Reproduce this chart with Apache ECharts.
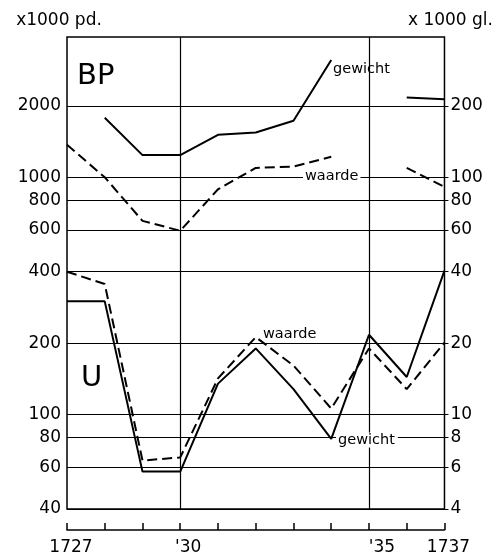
<!DOCTYPE html>
<html>
<head>
<meta charset="utf-8">
<script src="https://cdn.jsdelivr.net/npm/echarts@6/dist/echarts.min.js"></script>
<style>
  html, body { margin: 0; padding: 0; background: #fff; }
  #chart { width: 496px; height: 557px; }
</style>
</head>
<body>
<div id="chart"></div>
<script>
// jaren
var years = [1727, 1728, 1729, 1730, 1731, 1732, 1733, 1734, 1735, 1736, 1737];
// BP (x1000 pd. links, x1000 gl. rechts)
var bpGewicht = [null, 1780, 1240, 1240, 1510, 1545, 1730, 3120, null, 2170, 2130];
var bpWaarde = [1370, 1000, 655, 595, 890, 1095, 1110, 1220, null, 1095, 910];
// U
var uGewicht = [300, 300, 57.5, 57.5, 135, 190, 128, 79, 217, 144, 404];
var uWaarde = [400, 355, 64, 66, 142, 212, 161, 106, 190, 128, 201];
// schaalverdeling
var leftTicks = [40, 60, 80, 100, 200, 400, 600, 800, 1000, 2000];
var rightTicks = [4, 6, 8, 10, 20, 40, 60, 80, 100, 200];
var yearLabels = { 1727: '1727', 1730: "'30", 1735: "'35", 1737: '1737' };
var yearShift = { 1727: 'a', 1730: 'b', 1735: 'c', 1737: 'a' };

var font = 'DejaVu Sans';

function pairs(values) {
  var out = [];
  for (var i = 0; i < years.length; i++) {
    out.push([years[i], values[i]]);
  }
  return out;
}

function plainNumber(v) {
  // geen duizendtallen-komma
  return String(Math.round(v));
}

var myChart = echarts.init(document.getElementById('chart'));

var gridLines = [];
for (var i = 0; i < leftTicks.length; i++) {
  gridLines.push({ yAxis: leftTicks[i] });
}
gridLines.push({ xAxis: 1730 });
gridLines.push({ xAxis: 1735 });

var solid = { color: '#000', width: 2, type: 'solid' };
var dashed = { color: '#000', width: 2, type: [10, 5] };

var option = {
  animation: false,
  backgroundColor: '#fff',
  grid: {
    left: 67, right: 50, top: 37, bottom: 48,
    show: true, borderColor: '#000', borderWidth: 1.5
  },
  xAxis: {
    type: 'value',
    min: 1727, max: 1737, interval: 1,
    position: 'bottom',
    offset: 21,
    axisLine: { show: true, onZero: false, lineStyle: { color: '#000', width: 1.5 } },
    axisTick: { show: true, inside: true, length: 7, lineStyle: { color: '#000', width: 1.5 } },
    splitLine: { show: false },
    axisLabel: {
      margin: 9,
      color: '#000',
      fontFamily: font,
      fontSize: 17,
      formatter: function (v) {
        if (!yearLabels[v]) return '';
        return '{' + yearShift[v] + '|' + yearLabels[v] + '}';
      },
      rich: {
        a: { fontFamily: font, fontSize: 17, color: '#000', padding: [0, 0, 0, 8] },
        b: { fontFamily: font, fontSize: 17, color: '#000', padding: [0, 0, 0, 16] },
        c: { fontFamily: font, fontSize: 17, color: '#000', padding: [0, 0, 0, 26] }
      }
    }
  },
  yAxis: [
    {
      type: 'log',
      logBase: 10,
      min: 40, max: 3900,
      position: 'left',
      name: 'x1000 pd.',
      nameLocation: 'end',
      nameGap: 8,
      nameTextStyle: { color: '#000', fontFamily: font, fontSize: 17, align: 'center', padding: [0, 16, 0, 0] },
      axisLine: { show: false },
      axisTick: { show: false },
      splitLine: { show: false },
      axisLabel: {
        customValues: leftTicks,
        formatter: plainNumber,
        margin: 6,
        color: '#000',
        fontFamily: font,
        fontSize: 17
      }
    },
    {
      type: 'log',
      logBase: 10,
      min: 4, max: 390,
      position: 'right',
      name: 'x 1000 gl.',
      nameLocation: 'end',
      nameGap: 8,
      nameTextStyle: { color: '#000', fontFamily: font, fontSize: 17, align: 'center', padding: [0, 0, 0, 12] },
      axisLine: { show: false },
      axisTick: { show: true, customValues: rightTicks, length: 4, lineStyle: { color: '#000', width: 1 } },
      splitLine: { show: false },
      axisLabel: {
        customValues: rightTicks,
        formatter: plainNumber,
        margin: 6,
        color: '#000',
        fontFamily: font,
        fontSize: 17
      }
    }
  ],
  series: [
    {
      name: 'BP gewicht', type: 'line', data: pairs(bpGewicht),
      symbol: 'none', connectNulls: false, lineStyle: solid, silent: true, z: 3
    },
    {
      name: 'BP waarde', type: 'line', data: pairs(bpWaarde),
      symbol: 'none', connectNulls: false, lineStyle: dashed, silent: true, z: 3,
      markLine: {
        silent: true,
        symbol: ['none', 'none'],
        label: { show: false },
        lineStyle: { color: '#000', width: 1.2, type: 'solid' },
        emphasis: { disabled: true },
        data: gridLines
      }
    },
    {
      name: 'U gewicht', type: 'line', data: pairs(uGewicht),
      symbol: 'none', connectNulls: false, lineStyle: solid, silent: true, z: 3
    },
    {
      name: 'U waarde', type: 'line', data: pairs(uWaarde),
      symbol: 'none', connectNulls: false, lineStyle: dashed, silent: true, z: 3
    }
  ],
  graphic: [
    { type: 'text', x: 77, y: 76, style: { text: 'BP', font: '29px ' + font, fill: '#000', verticalAlign: 'middle' } },
    { type: 'text', x: 81, y: 378, style: { text: 'U', font: '29px ' + font, fill: '#000', verticalAlign: 'middle' } },
    { type: 'text', x: 333, y: 69, style: { text: 'gewicht', font: '14.5px ' + font, fill: '#000', verticalAlign: 'middle' } },
    { type: 'text', x: 303, y: 176, z: 10, style: { text: 'waarde', font: '14.5px ' + font, fill: '#000', verticalAlign: 'middle', backgroundColor: '#fff', padding: [0, 2, 0, 2] } },
    { type: 'text', x: 263, y: 334, style: { text: 'waarde', font: '14.5px ' + font, fill: '#000', verticalAlign: 'middle' } },
    { type: 'text', x: 336, y: 440, z: 10, style: { text: 'gewicht', font: '14.5px ' + font, fill: '#000', verticalAlign: 'middle', backgroundColor: '#fff', padding: [0, 3, 0, 2] } }
  ]
};

myChart.setOption(option);

window.addEventListener('resize', function () {
  if (myChart) {
    myChart.resize();
  }
});
</script>
</body>
</html>
